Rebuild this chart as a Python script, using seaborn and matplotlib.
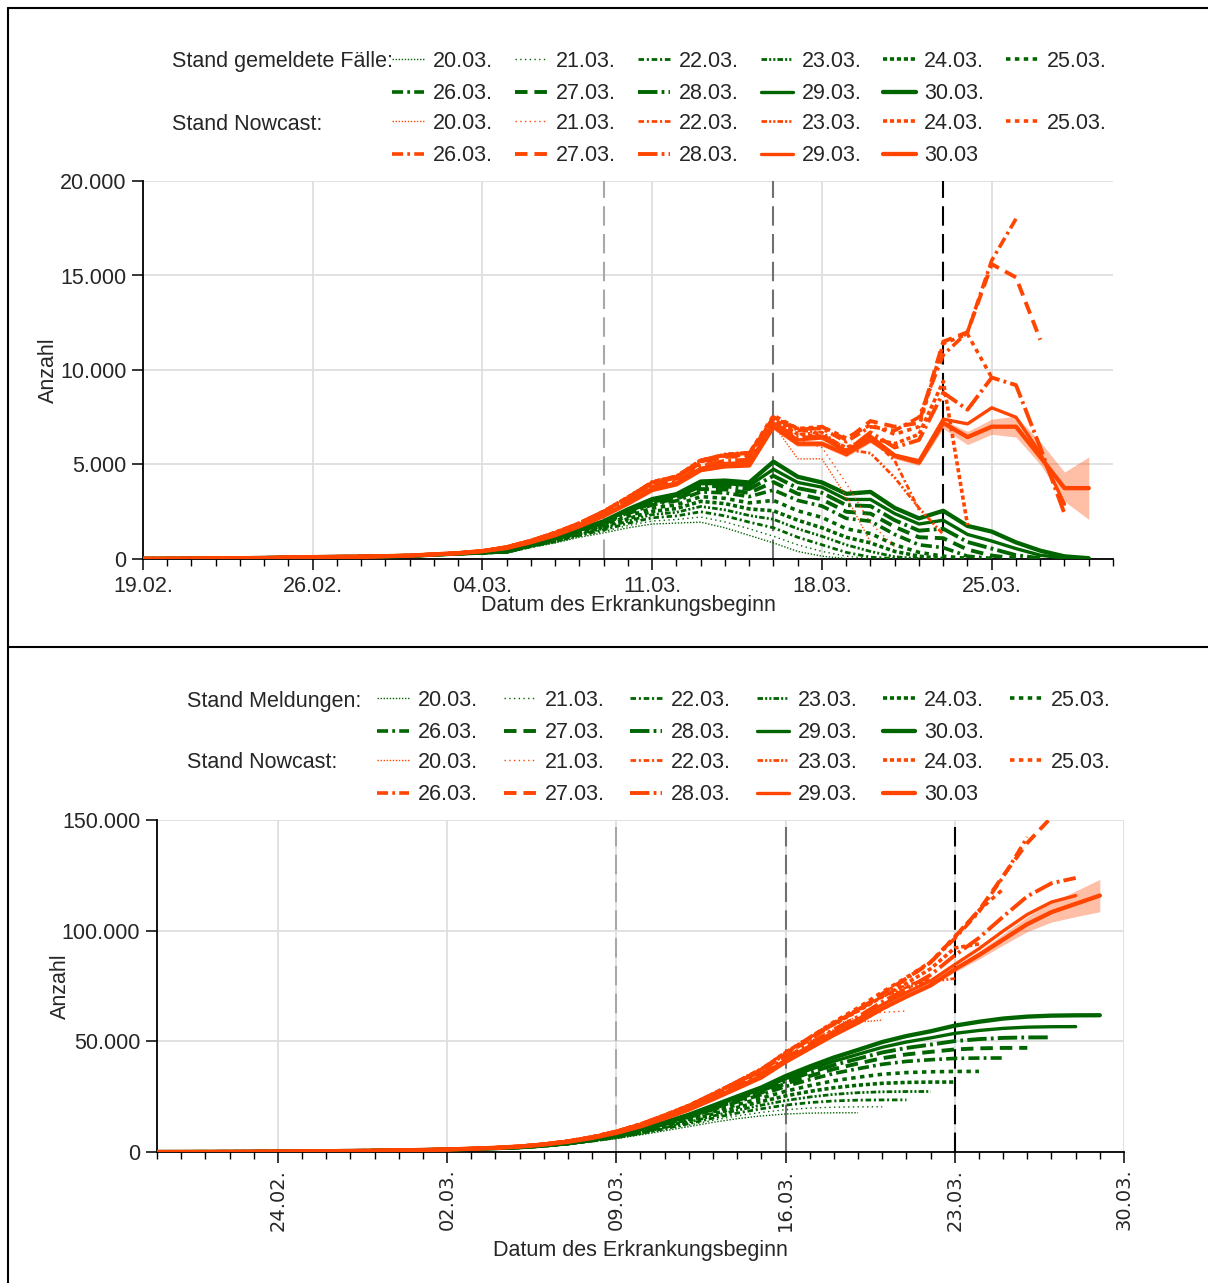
import numpy as np
import pandas as pd
import seaborn as sns
import matplotlib.pyplot as plt
import matplotlib.dates as mdates
from matplotlib.lines import Line2D
from matplotlib.ticker import FixedLocator, FuncFormatter

sns.set_style("ticks")
plt.rcParams['font.family'] = ['Liberation Sans', 'DejaVu Sans']
plt.rcParams['lines.scale_dashes'] = False

GRUEN = '#006400'
ORANGE = '#FF4500'
FS = 15.5

stand_labels = ['20.03.', '21.03.', '22.03.', '23.03.', '24.03.', '25.03.',
                '26.03.', '27.03.', '28.03.', '29.03.', '30.03.']
nowcast_labels = stand_labels[:-1] + ['30.03']

# Faelle nach Erkrankungsbeginn 19.02.-04.03. (bei allen Staenden gleich)
frueh_gemeldet = [10, 15, 20, 30, 40, 55, 75, 95, 110, 120, 140, 170, 230, 290, 340]
frueh_nowcast = [10, 15, 20, 30, 40, 55, 80, 100, 115, 125, 150, 180, 245, 310, 420]

# gemeldete Faelle ab 05.03., je Stand
gem_2003 = [330, 610, 850, 1150, 1380, 1650, 1850, 1900, 1950, 1650, 1250, 850, 400, 150, 20]
gem_2103 = [340, 630, 885, 1200, 1460, 1770, 2010, 2090, 2220, 1960, 1600, 1200, 750, 400, 150, 20]
gem_2203 = [350, 650, 920, 1250, 1540, 1890, 2180, 2280, 2500, 2280, 1950, 1650, 1150, 750, 350, 100, 20]
gem_2303 = [360, 670, 950, 1300, 1620, 2010, 2350, 2470, 2780, 2600, 2300, 2100, 1600, 1200, 750, 400,
            120, 20]
gem_2403 = [370, 690, 985, 1350, 1700, 2130, 2520, 2670, 3050, 2930, 2650, 2550, 2050, 1650, 1150, 850,
            400, 150, 20]
gem_2503 = [380, 710, 1015, 1410, 1780, 2260, 2690, 2870, 3300, 3210, 2970, 3100, 2550, 2200, 1600, 1350,
            750, 350, 150, 30]
gem_2603 = [390, 730, 1050, 1470, 1860, 2400, 2870, 3080, 3550, 3500, 3300, 3650, 3100, 2800, 2150, 2000,
            1300, 750, 600, 150, 30]
gem_2703 = [400, 740, 1070, 1500, 1900, 2460, 2950, 3180, 3700, 3680, 3500, 4070, 3450, 3150, 2500, 2400,
            1700, 1150, 1100, 500, 180, 30]
gem_2803 = [400, 750, 1090, 1530, 1930, 2520, 3030, 3270, 3850, 3850, 3700, 4400, 3750, 3500, 2850, 2800,
            2050, 1500, 1600, 900, 550, 200, 40]
gem_2903 = [410, 760, 1100, 1550, 1960, 2570, 3100, 3350, 3980, 4000, 3880, 4750, 4050, 3800, 3150, 3150,
            2400, 1850, 2050, 1300, 950, 550, 200, 50]
gem_3003 = [410, 770, 1120, 1570, 2000, 2630, 3170, 3430, 4100, 4150, 4050, 5150, 4350, 4050, 3450, 3550,
            2700, 2150, 2550, 1750, 1450, 880, 440, 140, 40]

# Nowcast ab 05.03., je Stand
now_2003 = [650, 990, 1420, 1920, 2550, 3300, 4100, 4400, 5250, 5550, 5650, 7100, 5300, 5300, 3300, 900]
now_2103 = [650, 990, 1420, 1920, 2550, 3300, 4100, 4400, 5250, 5550, 5650, 7300, 6300, 5900, 4000, 1900,
            650]
now_2203 = [650, 990, 1420, 1920, 2550, 3300, 4100, 4400, 5250, 5550, 5650, 7400, 6600, 6700, 5500, 6400,
            5200, 2600]
now_2303 = [650, 990, 1420, 1920, 2550, 3300, 4100, 4400, 5250, 5550, 5650, 7500, 6800, 6700, 5800, 5600,
            4300, 2700, 1300]
now_2403 = [640, 980, 1400, 1900, 2520, 3250, 4050, 4350, 5200, 5500, 5600, 7400, 6600, 6500, 5900, 6400,
            6100, 6600, 9400, 1800]
now_2503 = [640, 980, 1400, 1900, 2520, 3250, 4050, 4350, 5200, 5500, 5600, 7600, 6900, 7000, 6400, 7100,
            6600, 7000, 11400, 11900, 9600]
now_2603 = [630, 960, 1380, 1880, 2500, 3220, 4000, 4300, 5150, 5450, 5500, 7500, 6900, 6900, 6200, 7000,
            6800, 7500, 10800, 12000, 15800, 18000]
now_2703 = [630, 960, 1370, 1870, 2480, 3200, 3950, 4250, 5100, 5400, 5450, 7500, 6800, 7000, 6300, 7300,
            7000, 7200, 11500, 12000, 15600, 14900, 11600]
now_2803 = [610, 930, 1320, 1810, 2400, 3080, 3820, 4100, 4900, 5200, 5250, 7200, 6400, 6500, 5700, 6700,
            5900, 6300, 8800, 7900, 9600, 9200, 5900, 2400]
now_2903 = [590, 910, 1290, 1760, 2320, 3000, 3740, 4030, 4800, 5050, 5100, 7200, 6300, 6400, 5700, 6500,
            5500, 5200, 7400, 7150, 8000, 7500, 5600, 2900]
now_3003 = [580, 890, 1260, 1730, 2280, 2930, 3650, 3950, 4700, 4900, 4950, 7000, 6100, 6100, 5550, 6300,
            5450, 5100, 7200, 6450, 7000, 7000, 5400, 3750, 3750]

# Unsicherheitsband Nowcast 30.03. (taeglich ab 16.03., kumuliert ab 20.03.)
band_unten = [6850, 5950, 5950, 5400, 6150, 5300, 4950, 6900, 6050, 6600, 6450, 5000, 3050, 2100]
band_oben = [7150, 6250, 6250, 5700, 6450, 5600, 5250, 7350, 6750, 7400, 7550, 6200, 4600, 5400]
kum_halbbreite = [300, 500, 800, 1200, 1800, 2500, 3400, 4500, 5800, 7300]

gemeldet = [gem_2003, gem_2103, gem_2203, gem_2303, gem_2403, gem_2503,
            gem_2603, gem_2703, gem_2803, gem_2903, gem_3003]
nowcast = [now_2003, now_2103, now_2203, now_2303, now_2403, now_2503,
           now_2603, now_2703, now_2803, now_2903, now_3003]

# Linienstil je Stand: (Strichmuster in pt, Linienbreite)
stile = [
    ((0, (1.0, 1.2)), 1.0),
    ((0, (1.0, 2.4)), 1.0),
    ((0, (4, 2, 1.5, 2)), 2.0),
    ((0, (4, 1.5, 1.5, 1.5, 1.5, 1.5)), 2.0),
    ((0, (3, 2)), 2.6),
    ((0, (3.2, 3.2)), 2.6),
    ((0, (8, 3, 2, 3)), 2.6),
    ((0, (9, 5)), 2.8),
    ((0, (14, 3, 2, 3)), 2.8),
    ('-', 2.4),
    ('-', 3.1),
]


def reihe(frueh, rest):
    werte = np.array(frueh + rest, dtype=float)
    tage = pd.date_range('2020-02-19', periods=len(werte), freq='D')
    return tage, werte


def tausender(v, pos):
    return f"{int(round(v)):,}".replace(',', '.')


W, H = 1208, 1283
fig = plt.figure(figsize=(W / 100, H / 100), dpi=100)
ax1 = fig.add_axes([143 / W, 1 - 559 / H, 970 / W, 378 / H])
ax2 = fig.add_axes([157 / W, 1 - 1152 / H, 967 / W, 332 / H])

for ax, kumuliert in ((ax1, False), (ax2, True)):
    for rest, (ls, lw) in zip(gemeldet, stile):
        tage, werte = reihe(frueh_gemeldet, rest)
        if kumuliert:
            werte = np.cumsum(werte)
        sns.lineplot(x=tage, y=werte, ax=ax, color=GRUEN, lw=lw, linestyle=ls,
                     errorbar=None, zorder=3)
    for rest, (ls, lw) in zip(nowcast, stile):
        tage, werte = reihe(frueh_nowcast, rest)
        if kumuliert:
            werte = np.cumsum(werte)
        sns.lineplot(x=tage, y=werte, ax=ax, color=ORANGE, lw=lw, linestyle=ls,
                     errorbar=None, zorder=4)

    tage, werte = reihe(frueh_nowcast, now_3003)
    if kumuliert:
        werte = np.cumsum(werte)[-len(kum_halbbreite):]
        tb = tage[-len(kum_halbbreite):]
        hb = np.array(kum_halbbreite)
        ax.fill_between(tb, werte - hb, werte + hb, color=ORANGE, alpha=0.35, lw=0, zorder=2.5)
    else:
        tb = tage[-len(band_unten):]
        ax.fill_between(tb, band_unten, band_oben, color=ORANGE, alpha=0.35, lw=0, zorder=2.5)

    for d, c in zip(['2020-03-09', '2020-03-16', '2020-03-23'], ['#A8A8A8', '#707070', '#000000']):
        ax.axvline(pd.Timestamp(d), color=c, lw=1.5, dashes=(14, 6), zorder=2)

    ax.set_xlim(pd.Timestamp('2020-02-19'), pd.Timestamp('2020-03-30'))
    ax.xaxis.set_minor_locator(mdates.DayLocator())
    ax.xaxis.set_major_formatter(mdates.DateFormatter('%d.%m.'))
    ax.yaxis.set_major_formatter(FuncFormatter(tausender))
    ax.grid(True, which='major', color='#DEDEDE', lw=1.3)
    ax.set_axisbelow(True)
    for s in ('top', 'right'):
        ax.spines[s].set_visible(False)
    for s in ('left', 'bottom'):
        ax.spines[s].set_color('black')
        ax.spines[s].set_linewidth(1.3)
    ax.tick_params(axis='both', which='major', length=8, width=1.1, color='black',
                   labelsize=FS, pad=4)
    ax.tick_params(axis='x', which='minor', length=5, width=1.0, color='black')
    ax.set_xlabel('Datum des Erkrankungsbeginn', fontsize=FS)
    ax.set_ylabel('Anzahl', fontsize=FS)

ax1.set_ylim(0, 20000)
ax1.set_yticks([0, 5000, 10000, 15000, 20000])
ax1.xaxis.set_major_locator(FixedLocator(mdates.date2num(
    pd.date_range('2020-02-19', '2020-03-30', freq='7D'))))
ax1.xaxis.set_label_coords(0.5, -0.095)
ax1.yaxis.set_label_coords(-0.087, 0.5)

ax2.set_ylim(0, 150000)
ax2.set_yticks([0, 50000, 100000, 150000])
ax2.xaxis.set_major_locator(FixedLocator(mdates.date2num(
    pd.date_range('2020-02-24', '2020-03-30', freq='7D'))))
ax2.tick_params(axis='x', which='major', labelrotation=90, labelsize=14,
                labelfontfamily='DejaVu Sans')
ax2.xaxis.set_label_coords(0.5, -0.265)
ax2.yaxis.set_label_coords(-0.089, 0.5)

# Legenden: zeilenweise anordnen (2 Zeilen x 6 Spalten)
reihenfolge = [0, 6, 1, 7, 2, 8, 3, 9, 4, 10, 5]


def legende(farbe, labels, titel, x_titel, y_zeile, x_handle, spalten_abstand):
    griffe = [Line2D([], [], color=farbe, lw=lw, linestyle=ls) for ls, lw in stile]
    fig.legend([griffe[i] for i in reihenfolge], [labels[i] for i in reihenfolge],
               ncol=6, loc='upper left', bbox_to_anchor=(x_handle / W, 1 - (y_zeile - 9) / H),
               bbox_transform=fig.transFigure, frameon=False, fontsize=FS,
               handlelength=1.5, handletextpad=0.4, columnspacing=spalten_abstand,
               labelspacing=0.53, borderpad=0, borderaxespad=0)
    fig.text(x_titel / W, 1 - (y_zeile + 2) / H, titel, fontsize=FS, va='center', ha='left')


legende(GRUEN, stand_labels, 'Stand gemeldete Fälle:', 172, 60, 392, 1.02)
legende(ORANGE, nowcast_labels, 'Stand Nowcast:', 172, 122, 392, 1.02)
legende(GRUEN, stand_labels, 'Stand Meldungen:', 187, 699, 377, 1.19)
legende(ORANGE, nowcast_labels, 'Stand Nowcast:', 187, 761, 377, 1.19)

# Rahmenlinien der beiden Bildteile
for xs, ys in (([8, W], [8, 8]), ([8, W], [647, 647]), ([8, 8], [8, H])):
    fig.add_artist(Line2D([x / W for x in xs], [1 - y / H for y in ys],
                          transform=fig.transFigure, color='black', lw=1.5))

fig.savefig('out.png', dpi=100)
